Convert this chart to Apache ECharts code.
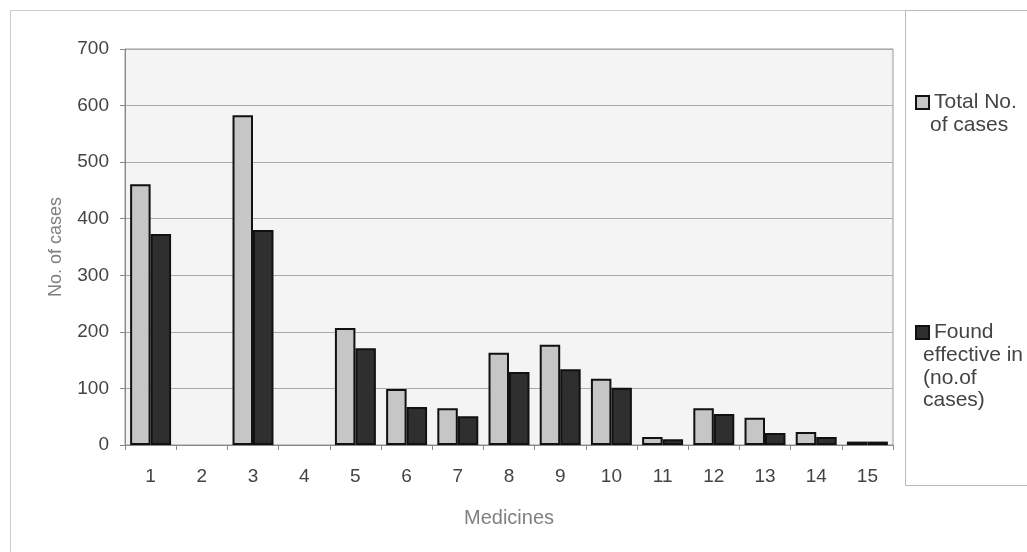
<!DOCTYPE html>
<html>
<head>
<meta charset="utf-8">
<script src="https://cdn.jsdelivr.net/npm/echarts@6/dist/echarts.min.js"></script>
<style>
  html, body { margin: 0; padding: 0; background: #fff; }
  #chart { width: 1027px; height: 552px; }
</style>
</head>
<body>
<div id="chart"></div>
<script>
var medicines = ['1', '2', '3', '4', '5', '6', '7', '8', '9', '10', '11', '12', '13', '14', '15'];
var totalCases = [461, 0, 583, 0, 207, 99, 65, 163, 177, 117, 14, 65, 48, 23, 6];
var effectiveCases = [373, 0, 380, 0, 171, 67, 51, 129, 134, 101, 10, 55, 21, 14, 6];
var yTicks = [0, 100, 200, 300, 400, 500, 600, 700];

var myChart = echarts.init(document.getElementById('chart'));

var font = 'Liberation Sans, Arial, sans-serif';

// medicines 2 and 4 have no bars at all, so drop the zeros
function noZero(arr) {
  return arr.map(function (v) { return v === 0 ? '-' : v; });
}

var option = {
  animation: false,
  backgroundColor: '#fff',
  grid: {
    left: 125,
    right: 134,
    top: 49,
    bottom: 107,
    show: true,
    backgroundColor: '#f4f4f4',
    borderColor: '#999',
    borderWidth: 1
  },
  legend: {
    orient: 'vertical',
    left: 910,
    top: 87,
    itemGap: 209,
    itemWidth: 13,
    itemHeight: 13,
    icon: 'rect',
    textStyle: { fontFamily: font, fontSize: 21, color: '#444' },
    formatter: function (name) {
      return name === 'Total No. of cases' ? 'Total No.' : 'Found';
    }
  },
  xAxis: {
    type: 'category',
    data: medicines,
    name: 'Medicines',
    nameLocation: 'middle',
    nameGap: 63,
    nameTextStyle: { fontFamily: font, fontSize: 20, color: '#808080' },
    axisLine: { lineStyle: { color: '#888' } },
    axisTick: { show: true, length: 5, lineStyle: { color: '#888' } },
    axisLabel: { fontFamily: font, fontSize: 19, color: '#444', margin: 22 }
  },
  yAxis: {
    type: 'value',
    min: 0,
    max: 700,
    interval: 100,
    name: 'No. of cases',
    nameLocation: 'middle',
    nameGap: 60,
    nameTextStyle: { fontFamily: font, fontSize: 18, color: '#808080' },
    axisLine: { show: true, lineStyle: { color: '#888' } },
    axisTick: { show: true, length: 5, lineStyle: { color: '#888' } },
    axisLabel: {
      fontFamily: font, fontSize: 19, color: '#444', margin: 16,
      formatter: function (v) { return yTicks.indexOf(v) >= 0 ? String(v) : ''; }
    },
    splitLine: { lineStyle: { color: '#aaa', width: 1 } }
  },
  series: [
    {
      name: 'Total No. of cases',
      type: 'bar',
      data: noZero(totalCases),
      barGap: '0%',
      barCategoryGap: '20%',
      itemStyle: { color: '#c6c6c6', borderColor: '#111', borderWidth: 2 }
    },
    {
      name: 'Found effective in (no.of cases)',
      type: 'bar',
      data: noZero(effectiveCases),
      itemStyle: { color: '#2f2f2f', borderColor: '#111', borderWidth: 2 }
    }
  ],
  graphic: [
    {
      type: 'rect',
      shape: { x: 10.5, y: 10.5, width: 1030, height: 560 },
      style: { fill: 'none', stroke: '#ccc', lineWidth: 1 },
      silent: true
    },
    {
      type: 'rect',
      shape: { x: 905.5, y: 10.5, width: 140, height: 475 },
      style: { fill: 'none', stroke: '#bbb', lineWidth: 1 },
      silent: true
    },
    {
      type: 'text',
      left: 930,
      top: 115,
      style: { text: 'of cases', font: '21px ' + font, fill: '#444' }
    },
    {
      type: 'text',
      left: 923,
      top: 344,
      style: { text: 'effective in\n(no.of\ncases)', font: '21px ' + font, fill: '#444', lineHeight: 22.5 }
    }
  ]
};

myChart.setOption(option);
</script>
</body>
</html>
